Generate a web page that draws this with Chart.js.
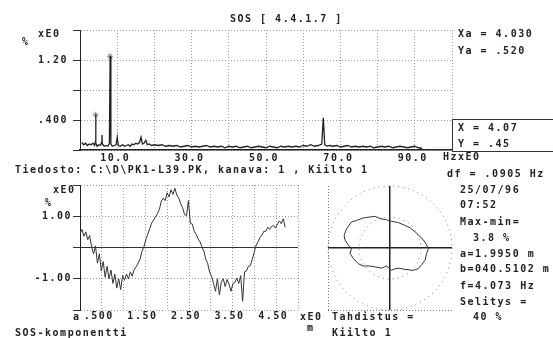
<!DOCTYPE html>
<html>
<head>
<meta charset="utf-8">
<script src="https://cdn.jsdelivr.net/npm/chart.js@4"></script>
<style>
body { margin:0; background:#fff; width:553px; height:338px; overflow:hidden; position:relative;
  font:bold 10px "DejaVu Sans Mono", monospace; color:#222; letter-spacing:1.5px; }
canvas { position:absolute; }
.t { position:absolute; white-space:pre; line-height:12px; }
.box { position:absolute; left:452px; top:119px; width:120px; height:31px; border:1px solid #333; }
</style>
</head>
<body>
<canvas id="spec" width="470" height="170" style="left:0;top:0"></canvas>
<canvas id="wave" width="310" height="170" style="left:0;top:160px"></canvas>
<canvas id="orbit" width="140" height="140" style="left:320px;top:178px"></canvas>
<div class="box"></div>

<div class="t" style="left:230px;top:13px">SOS [ 4.4.1.7 ]</div>
<div class="t" style="left:38px;top:28px">xE0</div>
<div class="t" style="left:22px;top:36px">%</div>
<div class="t" style="left:458px;top:28px">Xa = 4.030</div>
<div class="t" style="left:458px;top:45px">Ya = .520</div>
<div class="t" style="left:458px;top:122px">X = 4.07</div>
<div class="t" style="left:458px;top:138px">Y = .45</div>
<div class="t" style="left:443px;top:151px">HzxE0</div>
<div class="t" style="left:15px;top:164px">Tiedosto: C:\D\PK1-L39.PK, kanava: 1 , Kiilto 1</div>
<div class="t" style="left:447px;top:168px">df = .0905 Hz</div>
<div class="t" style="left:460px;top:184px">25/07/96</div>
<div class="t" style="left:460px;top:199px">07:52</div>
<div class="t" style="left:460px;top:216px">Max-min=</div>
<div class="t" style="left:473px;top:232px">3.8 %</div>
<div class="t" style="left:460px;top:248px">a=1.9950 m</div>
<div class="t" style="left:460px;top:263px">b=040.5102 m</div>
<div class="t" style="left:460px;top:280px">f=4.073 Hz</div>
<div class="t" style="left:460px;top:296px">Selitys =</div>
<div class="t" style="left:473px;top:311px">40 %</div>
<div class="t" style="left:53px;top:184px">xE0</div>
<div class="t" style="left:45px;top:197px">%</div>
<div class="t" style="left:73px;top:311px">a</div>
<div class="t" style="left:15px;top:327px">SOS-komponentti</div>
<div class="t" style="left:300px;top:311px">xE0</div>
<div class="t" style="left:307px;top:322px">m</div>
<div class="t" style="left:332px;top:311px">Tahdistus =</div>
<div class="t" style="left:332px;top:327px">Kiilto 1</div>

<script>
// spectrum (Hz, %)
const specFreq = [0.5,1.0,1.5,2.0,2.5,3.0,3.5,3.9,4.1,4.2,
  4.3,4.6,5.0,5.5,5.8,5.9,6.0,6.5,7.0,7.5,
  7.9,8.1,8.3,8.7,9.2,9.7,10.0,10.3,10.8,11.5,
  12.0,12.5,13.0,13.5,14.0,14.5,15.0,15.5,16.0,16.4,
  16.8,17.2,17.7,18.1,18.6,19.2,20,21,22,23,
  24,25,26,27,28,29,30,31,32,33,
  34,35,36,37,38,39,40,41,42,43,
  44,45,46,47,48,49,50,51,52,53,
  54,55,56,57,58,59,60,61,62,63,
  64,65,65.4,65.8,66.5,67,68,69,70,71,
  72,73,74,75,76,77,78,79,80,81,
  82,83,84,85,86,87,88,89,90,91,
  92];
const specAmp = [0.10,0.07,0.09,0.06,0.08,0.07,0.09,0.06,0.10,0.47,
  0.09,0.05,0.07,0.06,0.10,0.20,0.08,0.05,0.06,0.05,
  0.09,1.25,0.08,0.05,0.06,0.07,0.17,0.06,0.05,0.07,
  0.05,0.06,0.07,0.05,0.08,0.07,0.09,0.08,0.10,0.17,
  0.08,0.09,0.13,0.07,0.08,0.06,0.07,0.06,0.07,0.05,
  0.06,0.05,0.06,0.04,0.05,0.06,0.04,0.05,0.04,0.05,
  0.06,0.04,0.05,0.04,0.05,0.03,0.05,0.04,0.05,0.03,
  0.04,0.05,0.03,0.04,0.05,0.04,0.03,0.05,0.04,0.03,
  0.05,0.04,0.05,0.04,0.05,0.04,0.06,0.05,0.07,0.05,
  0.06,0.08,0.43,0.07,0.05,0.06,0.05,0.06,0.04,0.05,
  0.06,0.04,0.05,0.04,0.05,0.04,0.05,0.03,0.04,0.05,
  0.04,0.05,0.03,0.04,0.05,0.04,0.03,0.04,0.05,0.03,
  0.02];
const peakFreq = [4.2, 8.1];
const peakAmp = [0.47, 1.25];
const specXTicks = [0,10,20,30,40,50,60,70,80,90,100];
const specXLabels = ['','10.0','','30.0','','50.0','','70.0','','90.0',''];
const specYTicks = [0,0.4,0.8,1.2,1.6];
const specYLabels = ['','.400','','1.20',''];

// SOS component (time signal)
const waveStart = 0;
const waveStep = 0.0444;
const waveValues = [0.45,0.58,0.36,0.50,0.25,0.38,0.02,-0.20,0.05,-0.50,
  -0.20,-0.75,-0.45,-0.95,-0.60,-1.00,-0.72,-1.15,-0.85,-1.30,
  -1.00,-1.35,-0.90,-1.05,-0.85,-1.00,-0.78,-0.92,-0.70,-0.62,
  -0.50,-0.38,-0.12,0.02,0.25,0.42,0.60,0.78,0.88,0.98,
  1.08,1.22,1.48,1.58,1.50,1.75,1.62,1.85,1.70,1.90,
  1.68,1.58,1.40,1.28,1.05,1.02,1.50,0.78,0.75,0.52,
  0.42,0.28,0.18,0.02,-0.12,-0.38,-0.52,-0.80,-0.92,-1.15,
  -1.40,-1.00,-1.52,-1.10,-1.00,-1.25,-1.02,-1.18,-1.40,-1.15,
  -1.12,-0.98,-1.15,-0.90,-1.72,-0.78,-0.75,-0.60,-0.58,-0.38,
  -0.15,0.08,0.18,0.32,0.40,0.52,0.52,0.65,0.58,0.68,
  0.70,0.62,0.75,0.85,0.76,0.92,0.65];
const waveXTicks = [0,0.5,1,1.5,2,2.5,3,3.5,4,4.5,5];
const waveXLabels = ['','.500','','1.50','','2.50','','3.50','','4.50',''];
const waveYTicks = [-2,-1,0,1,2];
const waveYLabels = ['','-1.00','','1.00',''];

// orbit loop
const loopX = [-1.40,-1.24,-1.08,-0.86,-0.65,-0.48,-0.32,-0.11,0.05,0.27,
  0.48,0.65,0.81,0.91,1.02,1.13,1.24,1.18,1.13,1.02,
  0.91,0.75,0.48,0.27,0.16,0.05,-0.11,-0.27,-0.48,-0.65,
  -0.86,-1.02,-1.18,-1.29,-1.24,-1.34,-1.45,-1.48,-1.40];
const loopY = [0.62,0.84,0.89,0.97,1.00,1.02,0.95,0.91,0.86,0.82,
  0.73,0.65,0.52,0.43,0.32,0.19,-0.02,-0.18,-0.40,-0.54,
  -0.67,-0.72,-0.69,-0.65,-0.67,-0.72,-0.58,-0.65,-0.61,-0.58,
  -0.58,-0.51,-0.34,-0.18,-0.02,0.09,0.25,0.41,0.62];
const orbitTicks = [-2,0,2];
const rings = [1,2];

Chart.defaults.font = { family: '"DejaVu Sans Mono", monospace', size: 10, weight: 'bold' };
Chart.defaults.color = '#222';
Chart.defaults.animation = false;
Chart.defaults.plugins.legend.display = false;
Chart.defaults.plugins.tooltip.enabled = false;

Chart.register({
  id: 'spacing',
  beforeUpdate(c) { c.ctx.letterSpacing = '1.5px'; },
  beforeDraw(c) { c.ctx.letterSpacing = '1.5px'; }
});

const dotted = [1, 2];
function setTicks(list) {
  return scale => { scale.ticks = list.map(v => ({ value: v })); };
}

new Chart(document.getElementById('spec'), {
  type: 'line',
  data: {
    datasets: [{
      data: specFreq.map((f, i) => ({ x: f, y: specAmp[i] })),
      borderColor: '#222', borderWidth: 1.3, pointRadius: 0, tension: 0
    }, {
      data: peakFreq.map((f, i) => ({ x: f, y: peakAmp[i] })),
      showLine: false, pointStyle: 'star', pointRadius: 3,
      borderColor: '#888', borderWidth: 1
    }]
  },
  options: {
    responsive: false,
    layout: { padding: { top: 30, right: 18, left: 0, bottom: 0 } },
    scales: {
      x: {
        type: 'linear', min: 0, max: 100,
        afterBuildTicks: setTicks(specXTicks),
        afterFit(s) { s.height = 20; },
        ticks: { callback: (v, i) => specXLabels[i], autoSkip: false, maxRotation: 0, padding: 2, labelOffset: -2 },
        grid: { color: '#999', drawTicks: false },
        border: { color: '#222', width: 1.5, dash: dotted }
      },
      y: {
        min: 0, max: 1.6,
        afterBuildTicks: setTicks(specYTicks),
        afterFit(s) { s.width = 80; },
        ticks: { callback: (v, i) => specYLabels[i], padding: 5 },
        grid: { color: '#999', tickColor: '#333', tickLength: 7, tickBorderDash: [] },
        border: { color: '#222', width: 1, dash: dotted }
      }
    }
  }
});

new Chart(document.getElementById('wave'), {
  type: 'line',
  data: {
    datasets: [{
      data: waveValues.map((v, i) => ({ x: waveStart + i * waveStep, y: v })),
      borderColor: '#333', borderWidth: 1, pointRadius: 0, tension: 0
    }]
  },
  options: {
    responsive: false,
    layout: { padding: { top: 25, right: 12, left: 0, bottom: 0 } },
    scales: {
      x: {
        type: 'linear', min: 0, max: 5,
        afterBuildTicks: setTicks(waveXTicks),
        afterFit(s) { s.height = 20; },
        ticks: { callback: (v, i) => waveXLabels[i], autoSkip: false, maxRotation: 0, padding: 0, labelOffset: -3 },
        grid: { color: '#999', drawTicks: false },
        border: { display: false, dash: dotted }
      },
      y: {
        min: -2, max: 2,
        afterBuildTicks: setTicks(waveYTicks),
        afterFit(s) { s.width = 80; },
        ticks: { callback: (v, i) => waveYLabels[i], padding: 1 },
        grid: {
          color: c => (c.tick && c.tick.value === 0 ? '#333' : '#999'),
          tickColor: '#333', tickLength: 7, tickBorderDash: []
        },
        border: { color: '#222', width: 1, dash: c => (c.tick && c.tick.value === 0 ? [] : dotted) }
      }
    }
  }
});

const orbitGrid = {
  display: true, drawTicks: false,
  color: c => (!c.tick ? '#777' : c.tick.value === 0 ? '#222' : c.tick.value < 0 ? '#777' : 'rgba(0,0,0,0)'),
  lineWidth: c => (c.tick && c.tick.value === 0 ? 1.5 : 1)
};
const orbitBorder = { display: false, dash: c => (c.tick && c.tick.value === 0 ? [] : dotted) };

new Chart(document.getElementById('orbit'), {
  type: 'scatter',
  data: {
    datasets: [{
      data: loopX.map((x, i) => ({ x: x, y: loopY[i] })),
      showLine: true, borderColor: '#333', borderWidth: 1, pointRadius: 0, tension: 0
    }]
  },
  options: {
    responsive: false,
    layout: { padding: { top: 8, right: 8, left: 8, bottom: 8 } },
    scales: {
      x: {
        min: -2, max: 2, afterBuildTicks: setTicks(orbitTicks),
        afterFit(s) { s.height = 0; },
        ticks: { display: false }, grid: orbitGrid, border: orbitBorder
      },
      y: {
        min: -2, max: 2, afterBuildTicks: setTicks(orbitTicks),
        afterFit(s) { s.width = 0; },
        ticks: { display: false }, grid: orbitGrid, border: orbitBorder
      }
    }
  },
  plugins: [{
    id: 'rings',
    beforeDatasetsDraw(chart) {
      const { ctx, scales: { x, y } } = chart;
      const cx = x.getPixelForValue(0), cy = y.getPixelForValue(0);
      ctx.save();
      ctx.setLineDash([1, 4]);
      ctx.strokeStyle = '#777';
      rings.forEach(r => {
        ctx.beginPath();
        ctx.arc(cx, cy, x.getPixelForValue(r) - cx, 0, Math.PI * 2);
        ctx.stroke();
      });
      ctx.restore();
    }
  }]
});
</script>
</body>
</html>
